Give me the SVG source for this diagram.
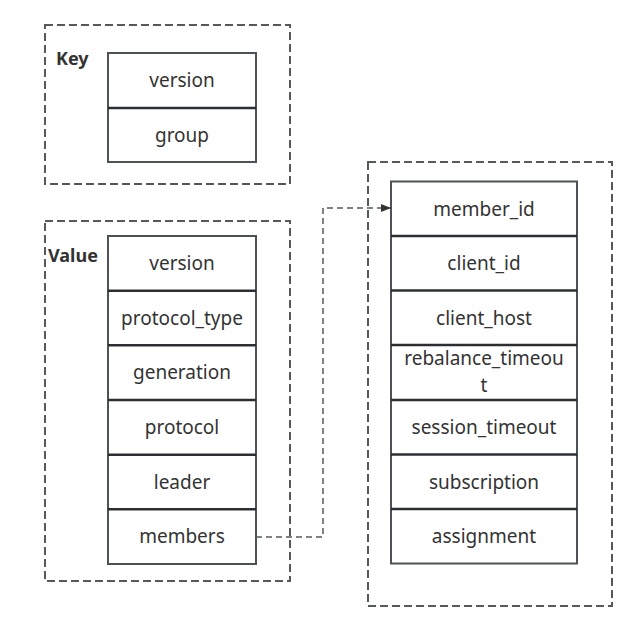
<svg xmlns="http://www.w3.org/2000/svg" width="638" height="630" viewBox="0 0 638 630">
<defs>
<style>
.grp{fill:none;stroke:#55595e;stroke-width:2;stroke-dasharray:8 4}
.cell{fill:#fff;stroke:#4d5258;stroke-width:2}
.div{stroke:#2b2f33;stroke-width:2.5}
.t{font-family:"Noto Sans","Liberation Sans",sans-serif;font-size:19px;fill:#333;text-anchor:middle}
.lbl{font-family:"Noto Sans","Liberation Sans",sans-serif;font-size:18px;font-weight:bold;fill:#333}
.conn{fill:none;stroke:#55595e;stroke-width:1.5;stroke-dasharray:6 4}
</style>
<marker id="arr" markerWidth="10" markerHeight="10" refX="9" refY="5" orient="auto" markerUnits="userSpaceOnUse">
<path d="M0,1 L10,5 L0,9 Z" fill="#333"/>
</marker>
</defs>
<rect width="638" height="630" fill="#fff"/>
<g id="key">
<rect class="grp" x="45" y="25" width="245" height="159"/>
<text class="lbl" x="56" y="65">Key</text>
<rect class="cell" x="108" y="53" width="148" height="109"/>
<line class="div" x1="108" y1="108" x2="256" y2="108"/>
<text class="t" x="182" y="87">version</text>
<text class="t" x="182" y="142">group</text>
</g>
<g id="value">
<rect class="grp" x="45" y="221" width="245" height="360"/>
<text class="lbl" x="48" y="262">Value</text>
<rect class="cell" x="108" y="236" width="148" height="328"/>
<line class="div" x1="108" y1="290.7" x2="256" y2="290.7"/>
<line class="div" x1="108" y1="345.3" x2="256" y2="345.3"/>
<line class="div" x1="108" y1="400" x2="256" y2="400"/>
<line class="div" x1="108" y1="454.7" x2="256" y2="454.7"/>
<line class="div" x1="108" y1="509.3" x2="256" y2="509.3"/>
<text class="t" x="182" y="270">version</text>
<text class="t" x="182" y="325">protocol_type</text>
<text class="t" x="182" y="379">generation</text>
<text class="t" x="182" y="434">protocol</text>
<text class="t" x="182" y="489">leader</text>
<text class="t" x="182" y="543">members</text>
</g>
<g id="member">
<rect class="grp" x="368" y="162" width="244" height="444"/>
<rect class="cell" x="391" y="181.5" width="186" height="382"/>
<line class="div" x1="391" y1="236" x2="577" y2="236"/>
<line class="div" x1="391" y1="290.5" x2="577" y2="290.5"/>
<line class="div" x1="391" y1="345" x2="577" y2="345"/>
<line class="div" x1="391" y1="400" x2="577" y2="400"/>
<line class="div" x1="391" y1="454.5" x2="577" y2="454.5"/>
<line class="div" x1="391" y1="509" x2="577" y2="509"/>
<text class="t" x="484" y="216">member_id</text>
<text class="t" x="484" y="270">client_id</text>
<text class="t" x="484" y="325">client_host</text>
<text class="t" x="484" y="365">rebalance_timeou</text>
<text class="t" x="484" y="392">t</text>
<text class="t" x="484" y="434">session_timeout</text>
<text class="t" x="484" y="489">subscription</text>
<text class="t" x="484" y="543">assignment</text>
</g>
<g id="connectors">
<path class="conn" d="M256 537 H323 V208 H390" marker-end="url(#arr)"/>
</g>
</svg>
